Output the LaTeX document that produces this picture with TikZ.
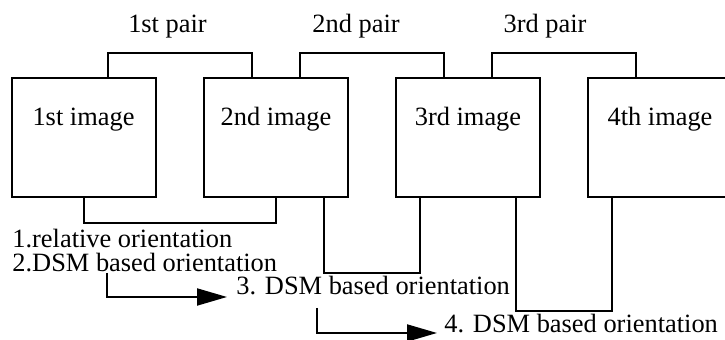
\documentclass[tikz,border=0pt]{standalone}
\usepackage{fontspec}
\setmainfont{Liberation Serif}
\usetikzlibrary{arrows.meta,positioning}

\tikzset{
  imgbox/.style={draw,line width=1pt,minimum width=72pt,minimum height=59.5pt,inner sep=0pt},
  txt/.style={font=\fontsize{13.2}{15}\selectfont,inner sep=0pt},
  link/.style={line width=1pt},
  flow/.style={line width=1pt,-{Triangle[length=15pt,width=8.5pt]}}
}

\begin{document}
\begin{tikzpicture}[x=0.5pt,y=-0.5pt]
\useasboundingbox (0,0) rectangle (725,340);
\clip (0,0) rectangle (725,340);
% images
\node[imgbox] (im1) at (83.5,137.5) {};
\node[imgbox] (im2) at (276,137.5) {};
\node[imgbox] (im3) at (468,137.5) {};
\node[imgbox] (im4) at (660,137.5) {};
\foreach \n/\t in {1/1st,2/2nd,3/3rd,4/4th}
  \node[txt,anchor=base] (t\n) at ([yshift=-24.5pt]im\n.north) {\t\ image};

% pairs
\node[txt,anchor=base] (p1) at (167.5,33) {1st pair};
\node[txt,anchor=base] (p2) at (356,33) {2nd pair};
\node[txt,anchor=base] (p3) at (545,33) {3rd pair};
\draw[link] ([xshift=12pt]im1.north) -- ++(0,-24) -| ([xshift=-12pt]im2.north);
\draw[link] ([xshift=12pt]im2.north) -- ++(0,-24) -| ([xshift=-12pt]im3.north);
\draw[link] ([xshift=12pt]im3.north) -- ++(0,-24) -| ([xshift=-12pt]im4.north);

% orientations
\draw[link] (im1.south) -- ++(0,25) -| (im2.south);
\draw[link] ([xshift=24pt]im2.south) -- ++(0,75) -| ([xshift=-24pt]im3.south);
\draw[link] ([xshift=24pt]im3.south) -- ++(0,113) -| ([xshift=-24pt]im4.south);

\node[txt,anchor=base west] (rel) at (12,248) {1.relative orientation};
\node[txt,anchor=base west] (dsm2) at (12,272) {2.DSM based orientation};
\node[txt,anchor=base west] (dsm3) at (236,295) {3. DSM based orientation};
\node[txt,anchor=base west] (dsm4) at (444,333) {4. DSM based orientation};

\draw[flow] ([xshift=47.5pt,yshift=-0.5pt]dsm2.base west) |- ([xshift=-4.5pt,yshift=-1pt]dsm3.base west);
\draw[flow] ([xshift=40.5pt,yshift=-6.5pt]dsm3.base west) |- ([xshift=-3.5pt]dsm4.base west);
\end{tikzpicture}
\end{document}
